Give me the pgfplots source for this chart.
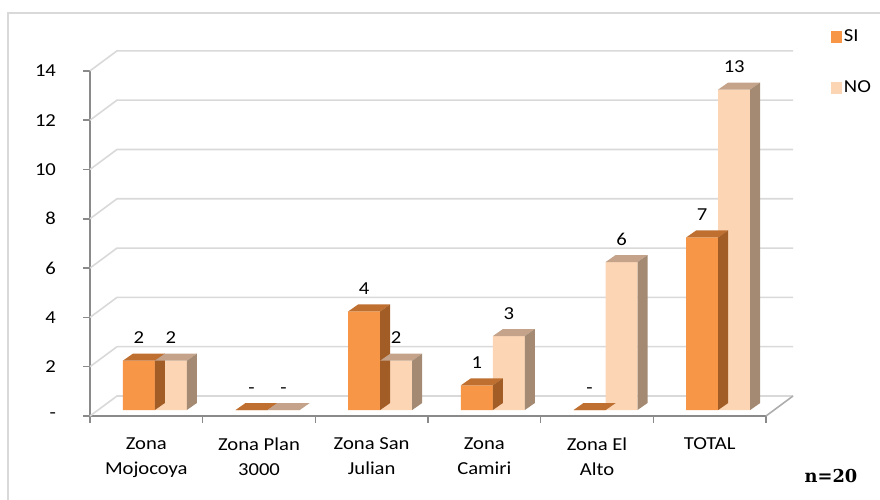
\documentclass[border=0pt]{standalone}
\usepackage{pgfplots}
\pgfplotsset{compat=1.18}
\usepackage{pgfplotstable}
\usepackage{fontspec}
\setmainfont{Carlito}[FakeStretch=1.13]
\newfontfamily\nfont{DejaVu Serif}
\definecolor{siF}{HTML}{F79646}
\definecolor{siT}{HTML}{BF6F30}
\definecolor{siS}{HTML}{A25D26}
\definecolor{noF}{HTML}{FCD5B5}
\definecolor{noT}{HTML}{C4A38A}
\definecolor{noS}{HTML}{A48A73}
\definecolor{gridc}{HTML}{D9D9D9}
\definecolor{axc}{HTML}{8A8A8A}

\pgfplotstableread{
x si no sil nol
0 2 2 2 2
1 0 0 - -
2 4 2 4 2
3 1 3 1 3
4 0 6 - 6
5 7 13 7 13
}\datatable

\newcommand\yu{18.49}
\pgfdeclareplotmark{siBar}{%
  \pgfmathsetmacro\h{\barval*\yu}%
  \pgfsetfillcolor{siT}%
  \pgfpathmoveto{\pgfqpoint{-12pt}{0pt}}%
  \pgfpathlineto{\pgfqpoint{12pt}{0pt}}%
  \pgfpathlineto{\pgfqpoint{19.5pt}{5.25pt}}%
  \pgfpathlineto{\pgfqpoint{-4.5pt}{5.25pt}}%
  \pgfpathclose\pgfusepath{fill}%
  \pgfsetfillcolor{siS}%
  \pgfpathmoveto{\pgfqpoint{12pt}{0pt}}%
  \pgfpathlineto{\pgfqpoint{19.5pt}{5.25pt}}%
  \pgfpathlineto{\pgfpoint{19.5pt}{5.25pt-\h pt}}%
  \pgfpathlineto{\pgfpoint{12pt}{-\h pt}}%
  \pgfpathclose\pgfusepath{fill}%
}
\pgfdeclareplotmark{noBar}{%
  \pgfmathsetmacro\h{\barval*\yu}%
  \pgfsetfillcolor{noT}%
  \pgfpathmoveto{\pgfqpoint{-12pt}{0pt}}%
  \pgfpathlineto{\pgfqpoint{12pt}{0pt}}%
  \pgfpathlineto{\pgfqpoint{19.5pt}{5.25pt}}%
  \pgfpathlineto{\pgfqpoint{-4.5pt}{5.25pt}}%
  \pgfpathclose\pgfusepath{fill}%
  \pgfsetfillcolor{noS}%
  \pgfpathmoveto{\pgfqpoint{12pt}{0pt}}%
  \pgfpathlineto{\pgfqpoint{19.5pt}{5.25pt}}%
  \pgfpathlineto{\pgfpoint{19.5pt}{5.25pt-\h pt}}%
  \pgfpathlineto{\pgfpoint{12pt}{-\h pt}}%
  \pgfpathclose\pgfusepath{fill}%
}

\begin{document}
\begin{tikzpicture}
\path[use as bounding box] (-67.5pt,-62.25pt) rectangle (592.5pt,312pt);
\draw[gridc, line width=1.1pt] (-61.5pt,-70pt) -- (-61.5pt,302.25pt) -- (600pt,302.25pt);
\begin{axis}[
  at={(0,0)}, anchor=south west,
  x=84.5pt, y=18.49pt,
  xmin=-0.5, xmax=5.5, ymin=0, ymax=14,
  clip=false,
  axis x line*=bottom, axis y line*=left,
  axis line style={axc, line width=1.4pt},
  tick style={axc, line width=1.1pt},
  tick align=outside, major tick length=5pt,
  ytick={0,2,...,14}, yticklabels={-,2,4,6,8,10,12,14},
  xtick={-0.5,0.5,...,5.5},
  x tick label as interval,
  xticklabels={{Zona\\Mojocoya},{Zona Plan\\3000},{Zona San\\Julian},{Zona\\Camiri},{Zona El\\Alto},{TOTAL}},
  xticklabel style={align=center, yshift=-8pt},
  yticklabel style={xshift=-17pt},
  tick label style={font=\fontsize{13.7}{18.75}\selectfont},
  legend style={at={(axis cs:6.07,14.35)}, anchor=west, draw=none, fill=none,
    font=\fontsize{13.7}{16}\selectfont, row sep=24.5pt, inner sep=0pt,
    nodes={inner sep=1.5pt}},
  legend cell align=left,
  every node near coord/.append style={font=\fontsize{13.7}{16}\selectfont, black, yshift=9pt},
]
\pgfplotsinvokeforeach{0,2,...,14}{
  \draw[gridc, line width=1.2pt] (axis cs:-0.5,#1) -- ++(20.25pt,15pt) -- ([shift={(20.25pt,15pt)}]axis cs:5.5,#1);
}
\draw[axc!70, line width=1.2pt] (axis cs:5.5,0) -- ++(20.25pt,15pt);

\addplot[ybar, bar width=24pt, bar shift=0pt, xshift=-5.6pt, yshift=4.5pt, fill=siF, draw=none,
  mark=siBar, visualization depends on={rawy \as \barval},
  nodes near coords, point meta=explicit symbolic, forget plot]
  table[x=x, y=si, meta=sil] {\datatable};
\addplot[ybar, bar width=24pt, bar shift=0pt, xshift=18.4pt, yshift=4.5pt, fill=noF, draw=none,
  mark=noBar, visualization depends on={rawy \as \barval},
  nodes near coords, point meta=explicit symbolic, forget plot]
  table[x=x, y=no, meta=nol] {\datatable};

\addlegendimage{legend image code/.code={\fill[siF] (0pt,-4.1pt) rectangle (8.2pt,4.1pt);}}
\addlegendentry{SI}
\addlegendimage{legend image code/.code={\fill[noF] (0pt,-4.1pt) rectangle (8.2pt,4.1pt);}}
\addlegendentry{NO}
\end{axis}
\node[anchor=base east, font=\nfont\bfseries\fontsize{13.35}{16}\selectfont] at (579pt,-49.5pt) {n=20};
\end{tikzpicture}
\end{document}
